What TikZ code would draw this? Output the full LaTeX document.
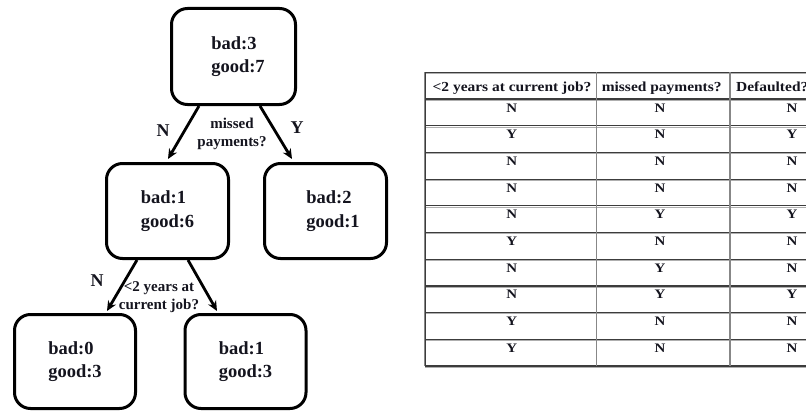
\documentclass[tikz,border=0pt]{standalone}
\usepackage{fontspec}
\setmainfont{Liberation Serif}
\newfontfamily\tabfont[FakeStretch=1.12]{Liberation Serif}
\newfontfamily\cellfont[FakeStretch=1.15]{Liberation Serif}
\usetikzlibrary{arrows.meta}
\definecolor{ink}{RGB}{20,20,30}
\definecolor{hline}{RGB}{60,60,60}
\definecolor{hlight}{RGB}{175,175,175}
\definecolor{vline}{RGB}{135,135,135}
\begin{document}
\begin{tikzpicture}[x=1pt,y=-1pt,
  box/.style={draw, line width=3pt, rounded corners=16pt, minimum width=122pt, minimum height=95pt, align=left, text=ink, font=\fontsize{18.5}{23.5}\selectfont\bfseries, inner sep=0pt},
  arr/.style={line width=2.8pt, -{Stealth[length=10pt,width=9pt]}},
  lbl/.style={font=\fontsize{18}{20}\selectfont\bfseries, text=ink, inner sep=0pt},
  q/.style={font=\fontsize{15}{18}\selectfont\bfseries, text=ink, align=center, inner sep=0pt},
  hd/.style={font=\tabfont\fontsize{13.8}{15}\selectfont\bfseries, text=ink, inner sep=0pt, anchor=base},
  cell/.style={font=\cellfont\fontsize{13}{14}\selectfont\bfseries, text=ink, inner sep=0pt, anchor=base},
  hl/.style={draw=hline, line width=1.2pt},
  hl2/.style={draw=hlight, line width=1pt},
  vl/.style={draw=vline, line width=1.5pt}]
\useasboundingbox (0,0) rectangle (806,412);
\fill[white] (0,0) rectangle (806,412);

% tree nodes
\node[box, minimum width=124pt, minimum height=96pt] (root) at (233.5,56.5) {\hspace*{9pt}bad:3\\\hspace*{9pt}good:7};
\node[box] (lc) at (167.5,211) {bad:1\\good:6};
\node[box] (rc) at (325.5,211) {\hspace*{15pt}bad:2\\\hspace*{15pt}good:1};
\node[box, minimum width=121pt, minimum height=94pt] (bl) at (75,361.5) {bad:0\\good:3};
\node[box, minimum width=121pt, minimum height=94pt] (br) at (245.5,361.5) {bad:1\\good:3};

% connectors
\draw[arr] ([xshift=-34.5pt]root.south) -- ([xshift=0.5pt,yshift=3pt]lc.north);
\draw[arr] ([xshift=26.5pt]root.south) -- ([xshift=-33.5pt,yshift=3pt]rc.north);
\draw[arr] ([xshift=-30.5pt]lc.south) -- ([xshift=32pt,yshift=2pt]bl.north);
\draw[arr] ([xshift=20.5pt]lc.south) -- ([xshift=-28.5pt,yshift=2pt]br.north);

% labels
\node[lbl] (n1) at (163,131) {N};
\node[lbl] (y1) at (297,128) {Y};
\node[q] (q1) at (232,134) {missed\\payments?};
\node[lbl] (n2) at (97,281) {N};
\node[q] (q2) at (159,297) {<2 years at\\current job?};

% table
\begin{scope}
\clip (420,60) rectangle (806,380);
\foreach \k in {0,...,11} {
  \draw[hl2] (425,{73.6+26.7*\k}) -- (870,{73.6+26.7*\k});
  \draw[hl] (425,{72.3+26.7*\k}) -- (870,{72.3+26.7*\k});
}
\draw[vl] (425,72.3) -- (425,366);
\draw[vl] (596.7,72.3) -- (596.7,366);
\draw[vl] (730,72.3) -- (730,366);
\draw[hl] (425.6,72.3) -- (425.6,366);

\node[hd] (h1) at (512,91.7) {<2 years at current job?};
\node[hd] (h2) at (661.7,91.7) {missed payments?};
\node[hd, anchor=base west] (h3) at (736,91.7) {Defaulted?};

\foreach \a/\b/\c [count=\r] in {N/N/N, Y/N/Y, N/N/N, N/N/N, N/Y/Y, Y/N/N, N/Y/N, N/Y/Y, Y/N/N, Y/N/N} {
  \node[cell] (c\r a) at (511.7,{72.3+26.7*\r+13}) {\a};
  \node[cell] (c\r b) at (660,{72.3+26.7*\r+13}) {\b};
  \node[cell] (c\r c) at (792,{72.3+26.7*\r+13}) {\c};
}
\end{scope}
\end{tikzpicture}
\end{document}
